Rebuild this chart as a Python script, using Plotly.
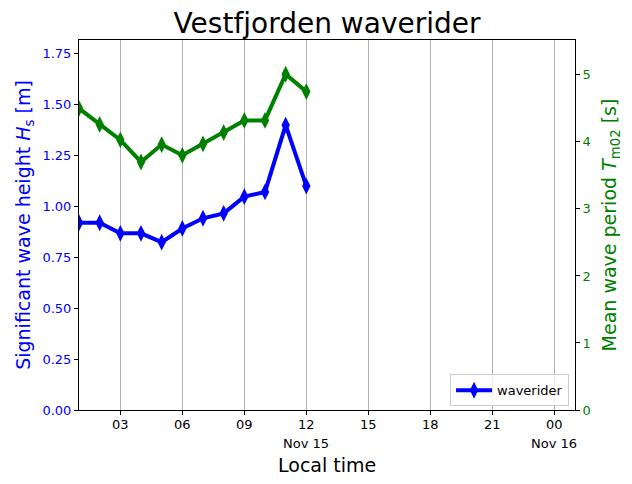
import plotly.graph_objects as go

# hours since 2023-11-15 00:00 local time
hours = [1, 2, 3, 4, 5, 6, 7, 8, 9, 10, 11, 12]
hs = [0.918, 0.918, 0.866, 0.866, 0.823, 0.890, 0.940, 0.964, 1.046, 1.069, 1.397, 1.098]
tm02 = [4.50, 4.26, 4.03, 3.70, 3.96, 3.80, 3.97, 4.14, 4.32, 4.32, 5.01, 4.75]

tick_vals = [3, 6, 9, 12, 15, 18, 21, 24]
tick_text = ["03", "06", "09", "12", "15", "18", "21", "00"]
date_label_pos = [12, 24]
date_labels = ["Nov 15", "Nov 16"]
x_range = [1, 25]

font = "DejaVu Sans"
blue = "#0000ff"
green = "#008000"

fig = go.Figure()
fig.add_trace(go.Scatter(x=hours, y=hs, mode="lines+markers", name="waverider",
                         line=dict(color=blue, width=4),
                         marker=dict(symbol="diamond-tall", size=12, color=blue),
                         yaxis="y"))
fig.add_trace(go.Scatter(x=hours, y=tm02, mode="lines+markers", name="Tm02",
                         line=dict(color=green, width=4),
                         marker=dict(symbol="diamond-tall", size=12, color=green),
                         yaxis="y2", showlegend=False))

# x tick labels drawn as annotations at the axis' tick positions (compact boxes)
for pos, lab in zip(tick_vals, tick_text):
    fig.add_annotation(x=pos, xref="x", y=0, yref="paper", yanchor="top",
                       yshift=-6, text=lab, showarrow=False, borderpad=0,
                       height=14, valign="middle",
                       font=dict(family=font, size=13, color="black"))
for pos, lab in zip(date_label_pos, date_labels):
    fig.add_annotation(x=pos, xref="x", y=0, yref="paper", yanchor="top",
                       yshift=-25, text=lab, showarrow=False, borderpad=0,
                       height=14, valign="middle",
                       font=dict(family=font, size=13, color="black"))
# x axis title, centred under the plot area
fig.add_annotation(x=0.5, xref="paper", y=0, yref="paper", yanchor="top",
                   yshift=-44, text="Local time", showarrow=False, borderpad=0,
                   height=20, valign="middle",
                   font=dict(family=font, size=19, color="black"))

fig.update_layout(
    width=632, height=484,
    margin=dict(l=79, r=57, t=40, b=74),
    paper_bgcolor="white", plot_bgcolor="white",
    font=dict(family=font, size=13, color="black"),
    title=dict(text="Vestfjorden waverider", x=0.5175, xanchor="center",
               y=1 - 23 / 484, yanchor="middle", font=dict(size=28, color="black")),
    xaxis=dict(range=x_range, tickvals=tick_vals, showticklabels=False,
               showgrid=True, gridcolor="#b0b0b0", gridwidth=1,
               showline=True, linecolor="black", linewidth=1, mirror=True,
               ticks="outside", ticklen=4, tickcolor="black", zeroline=False),
    yaxis=dict(range=[0, 1.814], tickvals=[0, 0.25, 0.5, 0.75, 1.0, 1.25, 1.5, 1.75],
               ticktext=["0.00", "0.25", "0.50", "0.75", "1.00", "1.25", "1.50", "1.75"],
               showgrid=False, zeroline=False,
               showline=True, linecolor="black", linewidth=1,
               ticks="outside", ticklen=4, tickcolor="black",
               tickfont=dict(size=13, color=blue),
               title=dict(text="Significant wave height <i>H</i><sub>s</sub> [m]",
                          font=dict(size=19, color=blue), standoff=6)),
    yaxis2=dict(range=[0, 5.52], overlaying="y", side="right",
                tickvals=[0, 1, 2, 3, 4, 5],
                showgrid=False, zeroline=False,
                showline=True, linecolor="black", linewidth=1,
                ticks="outside", ticklen=4, tickcolor="black",
                tickfont=dict(size=13, color=green),
                title=dict(text="Mean wave period <i>T</i><sub>m02</sub> [s]",
                           font=dict(size=19, color=green), standoff=12)),
    legend=dict(x=0.988, y=0.01, xanchor="right", yanchor="bottom",
                bgcolor="rgba(255,255,255,0.8)", bordercolor="#cccccc", borderwidth=1,
                font=dict(size=13), itemwidth=36),
    showlegend=True,
)

fig.write_html("out.html")
